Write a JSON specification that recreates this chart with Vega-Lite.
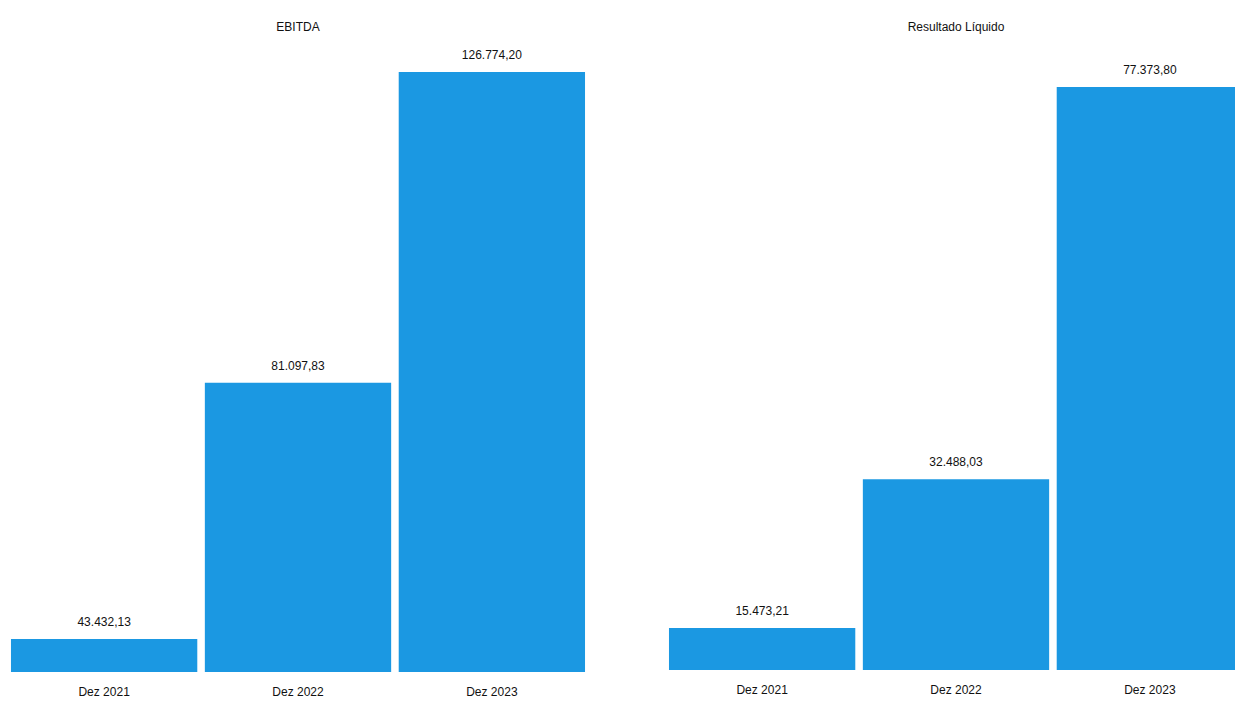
{
  "$schema": "https://vega.github.io/schema/vega-lite/v6.json",
  "padding": {"left": 4, "top": 21, "right": 0, "bottom": 0},
  "autosize": {"type": "pad"},
  "spacing": 70,
  "config": {
    "view": {"stroke": null},
    "font": "Liberation Sans",
    "locale": {"number": {"decimal": ",", "thousands": ".", "grouping": [3], "currency": ["R$", ""]}},
    "title": {"fontSize": 12, "fontWeight": "normal", "color": "#111111", "offset": 8, "anchor": "middle"},
    "axis": {"labelFontSize": 12, "labelColor": "#111111", "domain": false, "ticks": false, "grid": false, "title": null, "labelPadding": 14, "labelAngle": 0}
  },
  "datasets": {
    "ebitda": [
      {"periodo": "Dez 2021", "valor": 43432.13},
      {"periodo": "Dez 2022", "valor": 81097.83},
      {"periodo": "Dez 2023", "valor": 126774.20}
    ],
    "resultado": [
      {"periodo": "Dez 2021", "valor": 15473.21},
      {"periodo": "Dez 2022", "valor": 32488.03},
      {"periodo": "Dez 2023", "valor": 77373.80}
    ]
  },
  "hconcat": [
    {
      "title": {"text": "EBITDA"},
      "width": 588,
      "height": 630,
      "data": {"name": "ebitda"},
      "encoding": {
        "x": {"field": "periodo", "type": "nominal", "sort": null, "scale": {"paddingInner": 0.039, "paddingOuter": 0.036}},
        "y": {"field": "valor", "type": "quantitative", "axis": null, "scale": {"domain": [38580, 131184], "zero": false, "nice": false}}
      },
      "layer": [
        {"mark": {"type": "bar", "color": "#1b98e2"},
         "encoding": {"y2": {"datum": 38580}}},
        {"mark": {"type": "text", "baseline": "bottom", "dy": -10, "fontSize": 12, "color": "#111111"},
         "encoding": {"text": {"field": "valor", "type": "quantitative", "format": ",.2f"}}}
      ]
    },
    {
      "title": {"text": "Resultado Líquido"},
      "width": 588,
      "height": 628,
      "data": {"name": "resultado"},
      "encoding": {
        "x": {"field": "periodo", "type": "nominal", "sort": null, "scale": {"paddingInner": 0.039, "paddingOuter": 0.036}},
        "y": {"field": "valor", "type": "quantitative", "axis": null, "scale": {"domain": [10668, 82523], "zero": false, "nice": false}}
      },
      "layer": [
        {"mark": {"type": "bar", "color": "#1b98e2"},
         "encoding": {"y2": {"datum": 10668}}},
        {"mark": {"type": "text", "baseline": "bottom", "dy": -10, "fontSize": 12, "color": "#111111"},
         "encoding": {"text": {"field": "valor", "type": "quantitative", "format": ",.2f"}}}
      ]
    }
  ]
}
